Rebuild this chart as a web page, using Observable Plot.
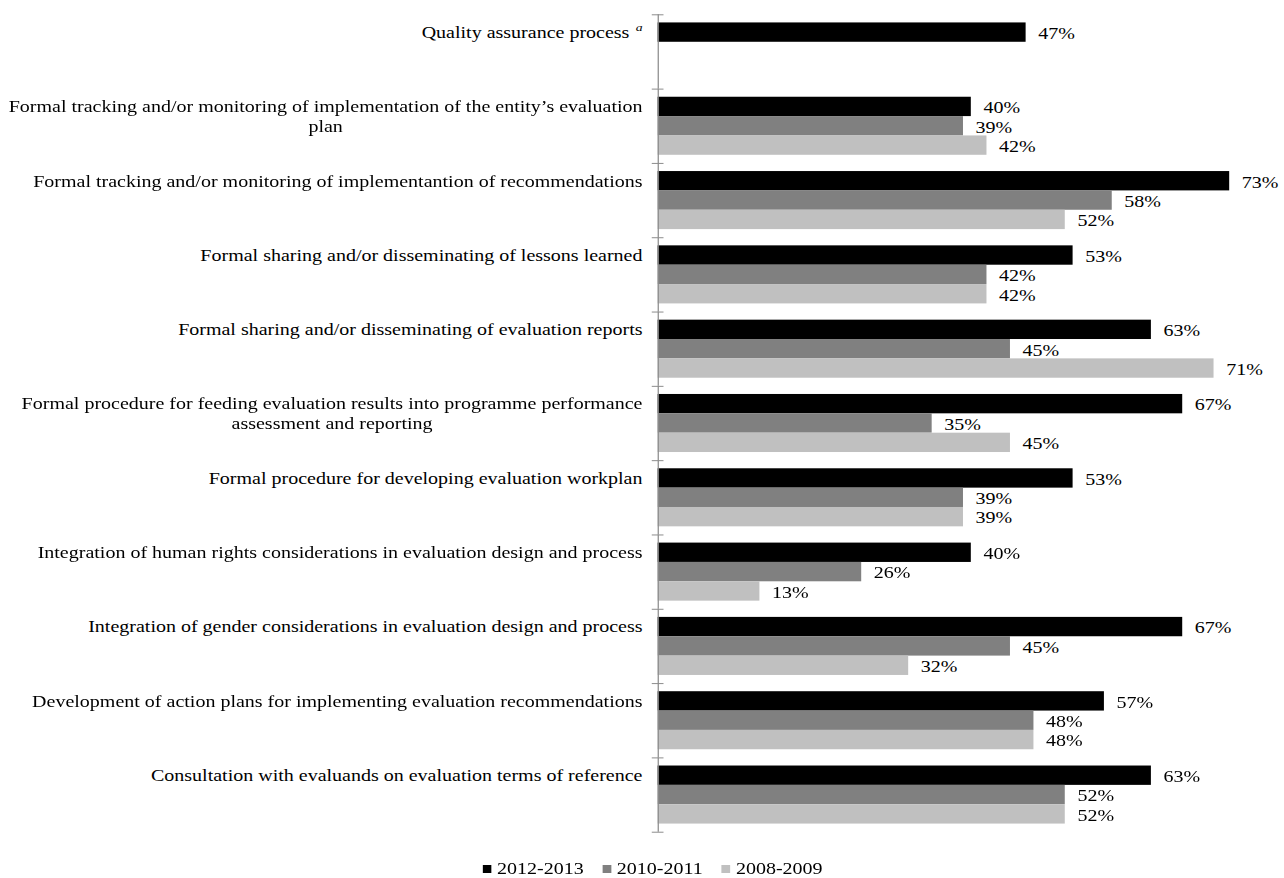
<!DOCTYPE html>
<html>
<head>
<meta charset="utf-8">
<script src="https://cdn.jsdelivr.net/npm/d3@7"></script>
<script src="https://cdn.jsdelivr.net/npm/@observablehq/plot@0.6"></script>
<style>
  html, body { margin: 0; padding: 0; background: #fff; }
  /* The whole figure is laid out at 1027px and widened to the page width */
  #figure {
    width: 1027px;
    transform: scaleX(1.25024);
    transform-origin: 0 0;
    font-family: "Liberation Serif", "Times New Roman", serif;
  }
  #legend {
    display: flex;
    align-items: center;
    gap: 15.3px;
    height: 38px;
    padding-left: 386.4px;
    box-sizing: border-box;
    font-size: 16px;
    line-height: 18px;
    padding-top: 19px;
    color: #000;
  }
  #legend .item { display: flex; align-items: center; white-space: nowrap; }
  #legend .swatch { display: inline-block; width: 6.4px; height: 8px; margin-right: 4.8px; }
</style>
</head>
<body>
<div id="figure">
  <div id="chart"></div>
  <div id="legend"></div>
</div>
<script>
// Evaluation practices reported by entities, share of entities per period (%)
const categories = [
  "Quality assurance process",
  "Formal tracking and/or monitoring of implementation of the entity\u2019s evaluation\nplan",
  "Formal tracking and/or monitoring of implementantion of recommendations",
  "Formal sharing and/or disseminating of lessons learned",
  "Formal sharing and/or disseminating of evaluation reports",
  "Formal procedure for feeding evaluation results into programme performance\nassessment and reporting",
  "Formal procedure for developing evaluation workplan",
  "Integration of human rights considerations in evaluation design and process",
  "Integration of gender considerations in evaluation design and process",
  "Development of action plans for implementing evaluation recommendations",
  "Consultation with evaluands on evaluation terms of reference"
];
const series = ["2012-2013", "2010-2011", "2008-2009"];
const seriesColors = ["#000000", "#808080", "#c0c0c0"];

const values2012 = [47, 40, 73, 53, 63, 67, 53, 40, 67, 57, 63];
const values2010 = [null, 39, 58, 42, 45, 35, 39, 26, 45, 48, 52];
const values2008 = [null, 42, 52, 42, 71, 45, 39, 13, 32, 48, 52];

// Footnote marker shown after the first category label
const footnoteCategory = categories[0];
const footnoteMarker = "a";

const rows = categories.flatMap((category, i) =>
  [values2012, values2010, values2008]
    .map((vals, j) => ({category, series: series[j], value: vals[i]}))
    .filter(d => d.value != null)
);

// Layout
const width = 1027, height = 840;
const marginTop = 14.3, marginBottom = 8.3, marginLeft = 526, marginRight = 0;
const barPadOuter = 0.42;
const groupBand = (height - marginTop - marginBottom) / categories.length;
const barStep = groupBand / (series.length + 2 * barPadOuter);
const edgeOffset = barStep / 2 + barPadOuter * barStep; // first bar centre -> group edge
const fontSize = 16, lineHeight = 1.22;
const axisColor = "#8c8c8c";

const isFirst = d => d.series === series[0];
const isLast = d => d.category === categories[categories.length - 1] && d.series === series[series.length - 1];

const chart = Plot.plot({
  width, height, marginTop, marginBottom, marginLeft, marginRight,
  style: {
    fontFamily: "'Liberation Serif', 'Times New Roman', serif",
    fontSize: `${fontSize}px`,
    background: "#fff",
    overflow: "visible",
    color: "#000"
  },
  x: {domain: [0, 80], axis: null},
  y: {domain: series, axis: null, paddingInner: 0, paddingOuter: barPadOuter, round: false},
  fy: {domain: categories, axis: null, padding: 0, round: false},
  color: {domain: series, range: seriesColors},
  facet: {data: rows, y: "category"},
  marks: [
    Plot.barX(rows, {x: "value", y: "series", fill: "series"}),
    Plot.ruleX([0], {stroke: axisColor, strokeWidth: 1}),
    // small ticks separating the category groups
    Plot.ruleY(rows, {filter: isFirst, y: "series", x1: -0.75, x2: 0.75, dy: -edgeOffset, stroke: axisColor}),
    Plot.ruleY(rows, {filter: isLast, y: "series", x1: -0.75, x2: 0.75, dy: edgeOffset, stroke: axisColor}),
    // category labels, first line level with the top bar
    Plot.text(rows, {
      filter: isFirst, y: "series", text: "category",
      frameAnchor: "left", dx: -12.6, textAnchor: "end",
      lineAnchor: "top", lineHeight, dy: fontSize * (0.33 - 0.71 * lineHeight),
      fill: "#000"
    }),
    // value labels
    Plot.text(rows, {
      x: "value", y: "series", text: d => `${d.value}%`,
      textAnchor: "start", dx: 9.6, dy: 1.2, lineAnchor: "middle", fill: "#000"
    })
  ]
});

document.getElementById("chart").appendChild(chart);

// Wrapped labels: centre each line inside its right-aligned block; add footnote marker
const svgNS = "http://www.w3.org/2000/svg";
const flatLabels = new Set(categories.map(c => c.replace(/\n/g, "")));
const footnoteFlat = footnoteCategory.replace(/\n/g, "");
Array.from(chart.querySelectorAll("text"))
  .filter(t => flatLabels.has(t.textContent))
  .forEach(t => {
    const spans = t.querySelectorAll("tspan");
    if (spans.length > 1) {
      const widths = Array.from(spans, s => s.getComputedTextLength());
      const maxW = Math.max(...widths);
      spans.forEach((s, k) => s.setAttribute("x", -(maxW - widths[k]) / 2));
    }
    if (t.textContent === footnoteFlat) {
      const sup = document.createElementNS(svgNS, "tspan");
      sup.textContent = footnoteMarker;
      sup.setAttribute("dx", 5);
      sup.setAttribute("dy", -7);
      sup.setAttribute("font-style", "italic");
      sup.setAttribute("font-size", 11);
      t.appendChild(sup);
    }
  });

// Legend
const legend = document.getElementById("legend");
series.forEach((s, i) => {
  const item = document.createElement("span");
  item.className = "item";
  const sw = document.createElement("span");
  sw.className = "swatch";
  sw.style.background = seriesColors[i];
  item.appendChild(sw);
  item.appendChild(document.createTextNode(s));
  legend.appendChild(item);
});
</script>
</body>
</html>
